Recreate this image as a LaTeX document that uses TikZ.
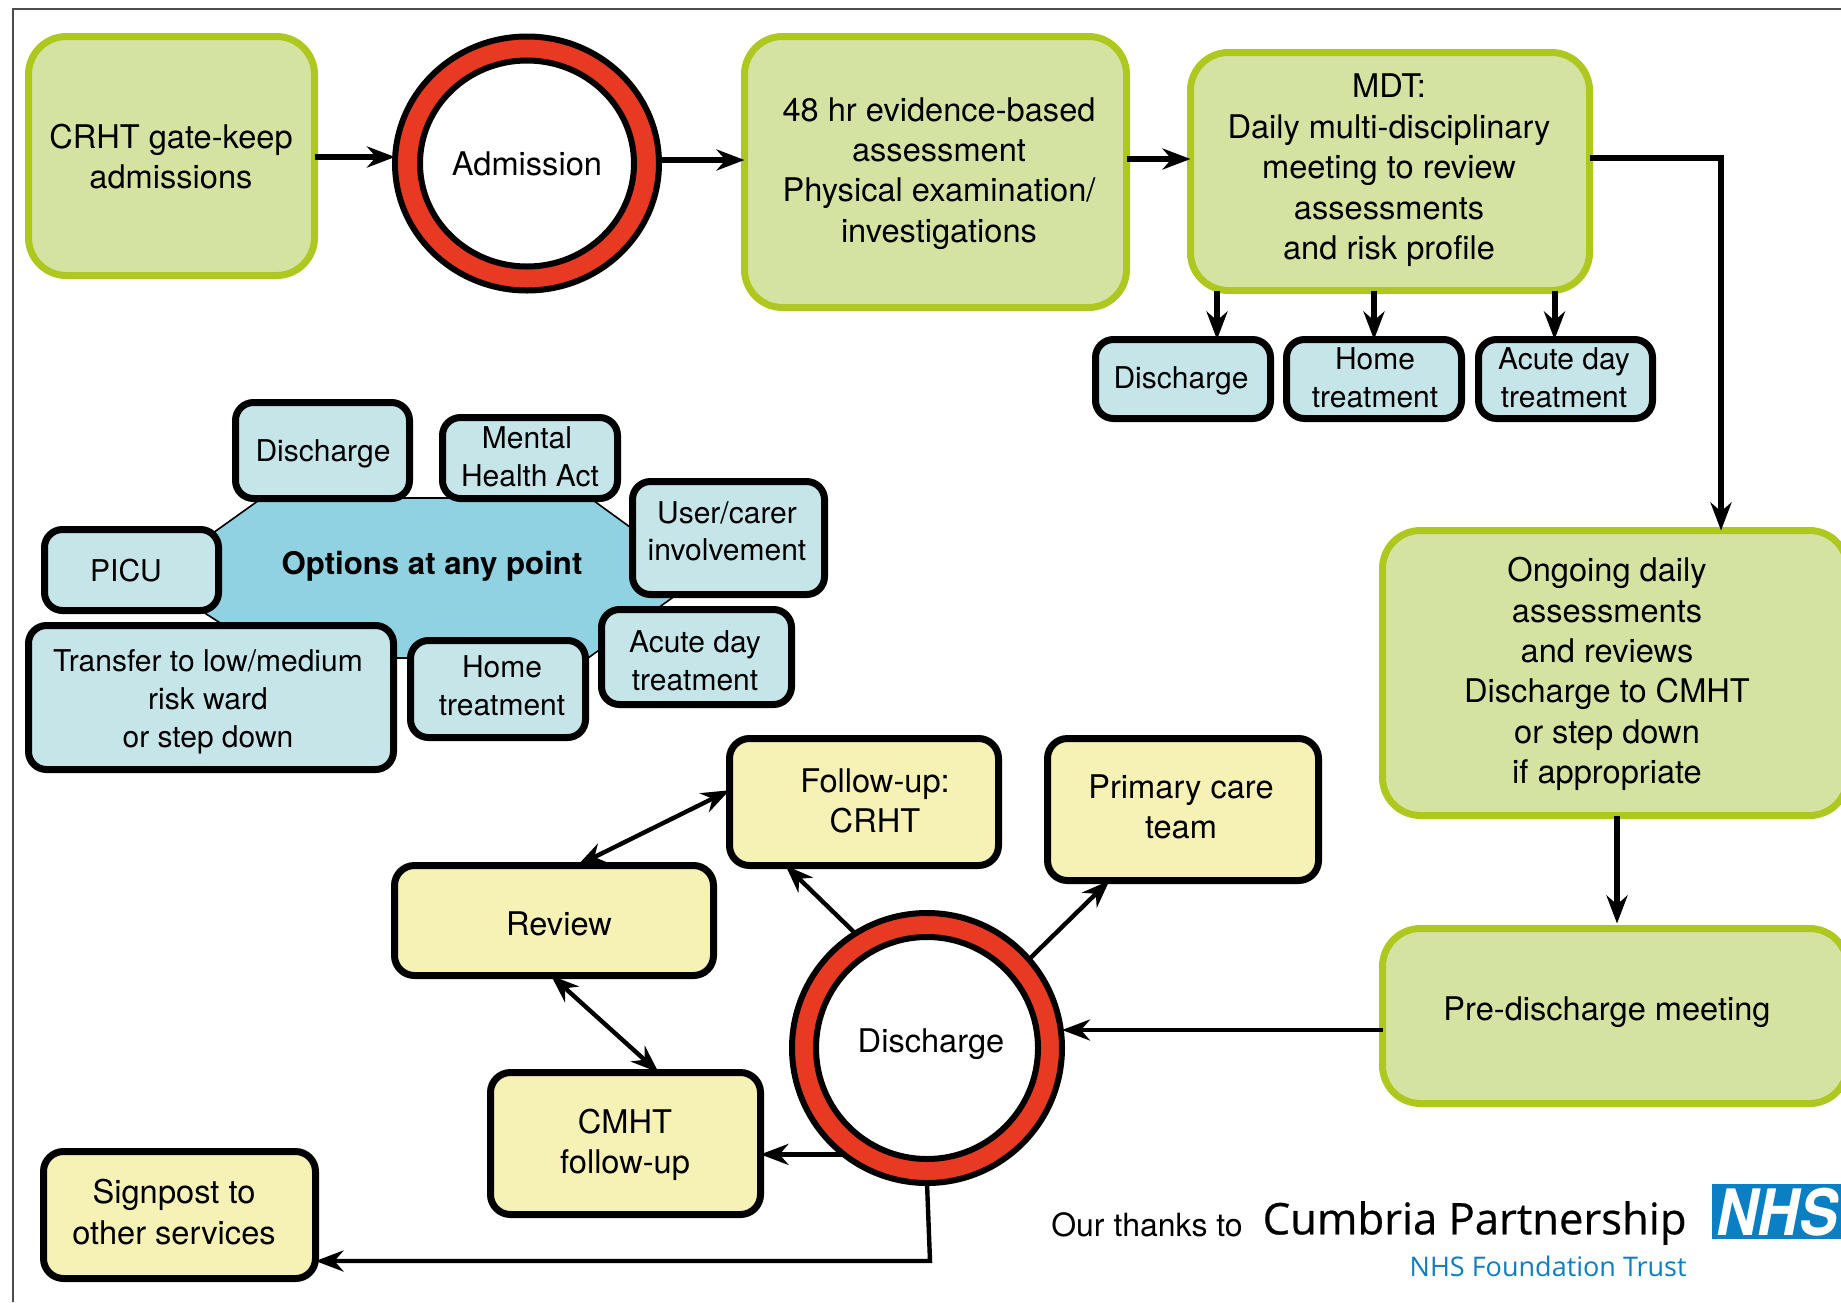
\documentclass[tikz,border=0pt]{standalone}
\usepackage{fontspec}
\setmainfont{TeX Gyre Heros}
\newfontfamily\logofont{Open Sans}
\newfontfamily\logofontheavy[FakeBold=0.5]{Open Sans}
\usetikzlibrary{arrows.meta,shapes.geometric,calc}
\definecolor{grfill}{HTML}{D5E3A2}
\definecolor{grline}{HTML}{AEC820}
\definecolor{blfill}{HTML}{C5E5E9}
\definecolor{octfill}{HTML}{90D2E1}
\definecolor{yefill}{HTML}{F6F2B6}
\definecolor{ringred}{HTML}{E83A22}
\definecolor{nhsblue}{HTML}{0A7FC4}
\newcommand\mainsize{\fontsize{16.3}{20.2}\selectfont}
\newcommand\smallsize{\fontsize{15}{18.8}\selectfont}
\tikzset{
  boxbase/.style={rectangle,inner sep=0pt,outer sep=0pt,line width=3.5pt},
  greenbox/.style={boxbase,draw=grline,fill=grfill,rounded corners=19pt,font=\mainsize},
  bluebox/.style={boxbase,draw=black,fill=blfill,rounded corners=9pt,font=\smallsize},
  yellowbox/.style={boxbase,draw=black,fill=yefill,rounded corners=10pt,font=\mainsize},
  ringouter/.style={ellipse,draw=black,fill=ringred,line width=3pt,inner sep=0pt,outer sep=0pt},
  ringinner/.style={ellipse,draw=black,fill=white,line width=3pt,inner sep=0pt,outer sep=0pt,font=\mainsize},
  arrtip/.tip={Stealth[length=14pt,width=10.5pt,inset=4.5pt]},
  arr/.style={-arrtip,line width=3pt,black},
  arrthin/.style={-arrtip,line width=2.2pt,black},
  dblarr/.style={arrtip-arrtip,line width=2.2pt,black},
}
\newcommand\placetext[3]{\makebox[0pt]{\hspace*{#1}\hspace*{#1}\raisebox{#2}[0pt][0pt]{\begin{tabular}{@{}c@{}}#3\end{tabular}}}}
% style, name, x1, y1, x2, y2, text-centre x, text-centre y, text
\newcommand\bx[9]{%
  \pgfmathsetmacro\bxW{(#5-#3-5)*0.5}%
  \pgfmathsetmacro\bxH{(#6-#4-5)*0.5}%
  \pgfmathsetmacro\bxX{(#3+#5)/2}%
  \pgfmathsetmacro\bxY{(#4+#6)/2}%
  \pgfmathsetmacro\bxDx{(#7-\bxX)*0.5}%
  \pgfmathsetmacro\bxDy{-(#8-\bxY)*0.5-5.6}%
  \node[#1,minimum width=\bxW pt,minimum height=\bxH pt] (#2) at (\bxX,\bxY)
    {\placetext{\bxDx pt}{\bxDy pt}{#9}};%
}
\begin{document}
\begin{tikzpicture}[x=0.5pt,y=-0.5pt]
\useasboundingbox (0,0) rectangle (1841,1302);
\clip (0,0) rectangle (1841,1302);
\fill[white] (0,0) rectangle (1841,1302);
\draw[line width=0.6pt,black!70] (13,1302) -- (13,9) -- (1841,9);

% options polygon
\fill[octfill,draw=black,line width=0.8pt] (262,498) -- (590,498) -- (700,578) -- (588,658) -- (275,658) -- (150,578) -- cycle;
\node[inner sep=0pt] (opttext) at (432,566) {\fontsize{15.6}{20}\selectfont\bfseries Options at any point};

% green boxes
\bx{greenbox}{crht}{26}{34}{317}{278}{171}{158}{CRHT gate-keep\\admissions}
\bx{greenbox}{assess}{742}{34}{1129}{310}{939}{171}{48 hr evidence-based\\assessment\\Physical examination/\\investigations}
\bx{greenbox}{mdt}{1188}{50}{1592}{293}{1389}{168}{MDT:\\Daily multi-disciplinary\\meeting to review\\assessments\\and risk profile}
\bx{greenbox}{ongoing}{1380}{528}{1850}{818}{1607}{672}{Ongoing daily\\assessments\\and reviews\\Discharge to CMHT\\or step down\\if appropriate}
\bx{greenbox}{pre}{1380}{926}{1850}{1106}{1607}{1010}{Pre-discharge meeting}

% rings
\node[ringouter,minimum width=132pt,minimum height=127pt] (adm) at (527,163.5) {};
\node[ringinner,minimum width=107pt,minimum height=103pt] (admin) at (527,163.5) {\placetext{0pt}{-6.2pt}{Admission}};
\node[ringouter,minimum width=135pt,minimum height=135pt] (ring) at (927,1048) {};
\node[ringinner,minimum width=111pt,minimum height=111pt] (ringin) at (927,1048) {\placetext{2pt}{-2.65pt}{Discharge}};

% blue boxes
\bx{bluebox}{dischargeA}{1093}{337}{1273}{421}{1181}{377}{Discharge}
\bx{bluebox}{homeA}{1284}{337}{1464}{421}{1375}{377}{Home\\treatment}
\bx{bluebox}{acuteA}{1476}{337}{1655}{421}{1564}{377}{Acute day\\treatment}
\bx{bluebox}{dischargeB}{233}{400}{412}{501}{323}{450}{Discharge}
\bx{bluebox}{mental}{440}{415}{620}{501}{530}{456}{Mental\hspace*{3pt}\\Health Act}
\bx{bluebox}{user}{630}{479}{827}{597}{727}{530.5}{User/carer\\involvement}
\bx{bluebox}{picu}{42}{527}{221}{613}{126}{570}{PICU}
\bx{bluebox}{transfer}{26}{623}{396}{772}{208}{698}{Transfer to low/medium\\risk ward\\or step down}
\bx{bluebox}{homeB}{408}{638}{588}{740}{502}{685}{Home\\treatment}
\bx{bluebox}{acuteB}{599}{607}{794}{707}{695}{660}{Acute day\\treatment}

% yellow boxes
\bx{yellowbox}{follow}{727}{736}{1001}{868}{875}{802}{Follow-up:\\CRHT}
\bx{yellowbox}{primary}{1045}{736}{1321}{883}{1181}{808}{Primary care\\team}
\bx{yellowbox}{review}{392}{863}{716}{978}{559}{925}{Review}
\bx{yellowbox}{cmht}{488}{1070}{763}{1217}{625}{1143}{CMHT\\follow-up}
\bx{yellowbox}{signpost}{41}{1149}{318}{1281}{174}{1213.5}{Signpost to\\other services}

% connectors
\draw[arr] (crht.east) ++(0,1) -- (adm.west |- 0,157);
\draw[arr] (adm.east) ++(0,-3.5) -- (assess.west |- 0,160);
\draw[arr] (assess.east) ++(0,-13) -- (mdt.west |- 0,159);
\draw[arr] (mdt.east) ++(0,-14) -| ([xshift=53pt]ongoing.north);
\draw[arr] ([xshift=17pt]dischargeA.north |- mdt.south) -- ([xshift=17pt]dischargeA.north);
\draw[arr] (mdt.south -| homeA.north) -- (homeA.north);
\draw[arr] ([xshift=-5.5pt]acuteA.north |- mdt.south) -- ([xshift=-5.5pt]acuteA.north);
\draw[arr] ([xshift=1pt]ongoing.south) -- ([xshift=1pt,yshift=2.5pt]ongoing.south |- pre.north);
\draw[arrthin] (pre.west |- 0,1030) -- (ring.east |- 0,1030);
\draw[arrthin] (ring.122) -- (follow.219);
\draw[arrthin] (ring.41) -- (primary.224);
\draw[dblarr] (follow.175) -- (review.67);
\draw[dblarr] (review.267) -- (cmht.65);
\draw[arrthin] (ring.232) -- (ring.232 -| cmht.east);
\draw[arrthin] (ring.south) -- ++(3,78) -- (signpost.east |- 0,1261);

% credit
\node[inner sep=0pt] (thanks) at (1147,1224.5) {\fontsize{16}{20}\selectfont Our thanks to};
\node[inner sep=0pt,anchor=east] (cumbria) at (1687,1223) {\logofontheavy\fontsize{21.8}{25}\selectfont Cumbria Partnership};
\node[inner sep=0pt,anchor=east,text=nhsblue] (trust) at (1687,1266) {\logofont\fontsize{13.5}{16}\selectfont NHS Foundation Trust};
\fill[nhsblue] (1712,1184) rectangle (1850,1239);
\node[inner sep=0pt,anchor=west,text=white,xscale=0.9] (nhs) at (1716,1212) {\fontsize{32}{36}\selectfont\bfseries\itshape NHS};
\end{tikzpicture}
\end{document}
